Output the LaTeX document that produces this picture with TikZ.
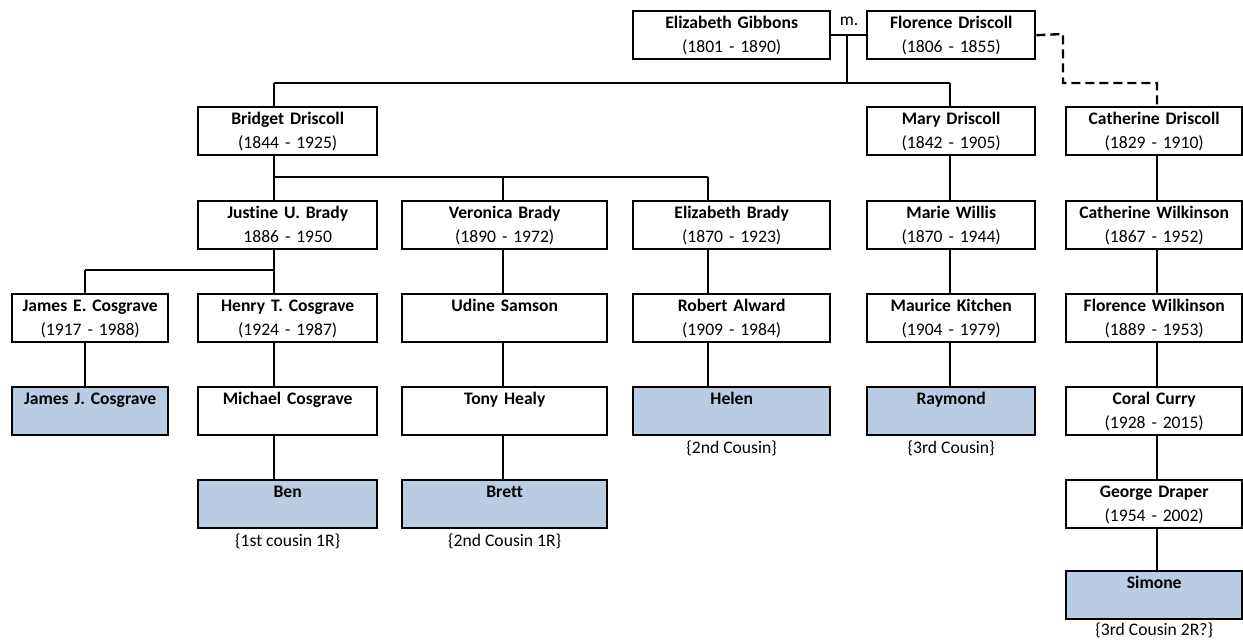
\documentclass[tikz,border=0pt]{standalone}
\usepackage{fontspec}
\setmainfont{Carlito}[Ligatures=NoCommon]
\definecolor{kin}{HTML}{B8CCE4}
\begin{document}
\begin{tikzpicture}[x=1pt,y=-1pt,
  txt/.style={font=\fontsize{17.6}{24}\selectfont},
  person/.style={txt, draw, line width=2.4pt, fill=white, anchor=north west,
    minimum height=48pt, inner sep=0pt, align=center},
  relative/.style={person, fill=kin},
  colA/.style={minimum width=156pt, text width=156pt},
  colB/.style={minimum width=179pt, text width=179pt},
  colC/.style={minimum width=205pt, text width=205pt},
  colD/.style={minimum width=197pt, text width=197pt},
  colE/.style={minimum width=168pt, text width=168pt},
  colF/.style={minimum width=176pt, text width=176pt},
  link/.style={line width=2.4pt},
  uncertain/.style={line width=2.4pt, dash pattern=on 9pt off 5pt, line join=miter},
  lbl/.style={txt, inner sep=0pt}]
\useasboundingbox (0,0) rectangle (1243,640);

% connector columns and bar heights
\coordinate (xA) at (85,0);
\coordinate (xB) at (274,0);
\coordinate (xC) at (503,0);
\coordinate (xD) at (708,0);
\coordinate (xE) at (950,0);
\coordinate (xF) at (1157,0);
\coordinate (bar0) at (0,83);
\coordinate (bar1) at (0,177);
\coordinate (bar2) at (0,270);
\coordinate (wed) at (847,34);
\coordinate (dashA) at (1063,34);
\coordinate (dashB) at (1063,83);

% generation 0
\node[person, colD] (gibbons) at (632,10) {\textbf{Elizabeth Gibbons}\strut\\(1801 - 1890)\strut};
\node[person, colE] (florence) at (866,10) {\textbf{Florence Driscoll}\strut\\(1806 - 1855)\strut};
\node[lbl] (married) at (849,21) {m.};

% generation 1
\node[person, colB] (bridget) at (197,106) {\textbf{Bridget Driscoll}\strut\\(1844 - 1925)\strut};
\node[person, colE] (mary) at (866,106) {\textbf{Mary Driscoll}\strut\\(1842 - 1905)\strut};
\node[person, colF] (catherine) at (1065,106) {\textbf{Catherine Driscoll}\strut\\(1829 - 1910)\strut};

% generation 2
\node[person, colB] (justine) at (197,200) {\textbf{Justine U. Brady}\strut\\1886 - 1950\strut};
\node[person, colC] (veronica) at (401,200) {\textbf{Veronica Brady}\strut\\(1890 - 1972)\strut};
\node[person, colD] (elizabeth) at (632,200) {\textbf{Elizabeth Brady}\strut\\(1870 - 1923)\strut};
\node[person, colE] (marie) at (866,200) {\textbf{Marie Willis}\strut\\(1870 - 1944)\strut};
\node[person, colF] (cwilkinson) at (1065,200) {\textbf{Catherine Wilkinson}\strut\\(1867 - 1952)\strut};

% generation 3
\node[person, colA] (jamesE) at (11,293) {\textbf{James E. Cosgrave}\strut\\(1917 - 1988)\strut};
\node[person, colB] (henry) at (197,293) {\textbf{Henry T. Cosgrave}\strut\\(1924 - 1987)\strut};
\node[person, colC] (udine) at (401,293) {\textbf{Udine Samson}\strut\\\strut};
\node[person, colD] (robert) at (632,293) {\textbf{Robert Alward}\strut\\(1909 - 1984)\strut};
\node[person, colE] (maurice) at (866,293) {\textbf{Maurice Kitchen}\strut\\(1904 - 1979)\strut};
\node[person, colF] (fwilkinson) at (1065,293) {\textbf{Florence Wilkinson}\strut\\(1889 - 1953)\strut};

% generation 4
\node[relative, colA] (jamesJ) at (11,386) {\textbf{James J. Cosgrave}\strut\\\strut};
\node[person, colB] (michael) at (197,386) {\textbf{Michael Cosgrave}\strut\\\strut};
\node[person, colC] (tony) at (401,386) {\textbf{Tony Healy}\strut\\\strut};
\node[relative, colD] (helen) at (632,386) {\textbf{Helen}\strut\\\strut};
\node[relative, colE] (raymond) at (866,386) {\textbf{Raymond}\strut\\\strut};
\node[person, colF] (coral) at (1065,386) {\textbf{Coral Curry}\strut\\(1928 - 2015)\strut};

% generation 5
\node[relative, colB] (ben) at (197,479) {\textbf{Ben}\strut\\\strut};
\node[relative, colC] (brett) at (401,479) {\textbf{Brett}\strut\\\strut};
\node[person, colF] (george) at (1065,479) {\textbf{George Draper}\strut\\(1954 - 2002)\strut};

% generation 6
\node[relative, colF] (simone) at (1065,570) {\textbf{Simone}\strut\\\strut};

% relationship notes
\node[lbl] (nHelen) at ([yshift=-12pt]helen.south) {\{2nd Cousin\}};
\node[lbl] (nRaymond) at ([yshift=-12pt]raymond.south) {\{3rd Cousin\}};
\node[lbl] (nBen) at ([yshift=-12pt]ben.south) {\{1st cousin 1R\}};
\node[lbl] (nBrett) at ([yshift=-12pt]brett.south) {\{2nd Cousin 1R\}};
\node[lbl] (nSimone) at ([yshift=-10pt]simone.south) {\{3rd Cousin 2R?\}};

% marriage and first family bar
\draw[link] (gibbons.east) -- (florence.west);
\draw[link] (wed) -- (wed |- bar0);
\draw[link] (bar0 -| xB) -- (bar0 -| xE);
\draw[link] (bar0 -| xB) -- (bridget.north -| xB);
\draw[link] (bar0 -| xE) -- (mary.north -| xE);

% uncertain link to Catherine Driscoll
\draw[uncertain] (florence.east) -- (dashA) -- (dashB) -- (dashB -| xF) -- (catherine.north -| xF);

% Bridget's children
\draw[link] (bridget.south -| xB) -- (justine.north -| xB);
\draw[link] (bar1 -| xB) -- (bar1 -| xD);
\draw[link] (bar1 -| xC) -- (veronica.north -| xC);
\draw[link] (bar1 -| xD) -- (elizabeth.north -| xD);

% Justine's children
\draw[link] (justine.south -| xB) -- (henry.north -| xB);
\draw[link] (bar2 -| xA) -- (bar2 -| xB);
\draw[link] (bar2 -| xA) -- (jamesE.north -| xA);

% single lines of descent
\draw[link] (jamesE.south -| xA) -- (jamesJ.north -| xA);
\draw[link] (henry.south -| xB) -- (michael.north -| xB);
\draw[link] (michael.south -| xB) -- (ben.north -| xB);
\draw[link] (veronica.south -| xC) -- (udine.north -| xC);
\draw[link] (udine.south -| xC) -- (tony.north -| xC);
\draw[link] (tony.south -| xC) -- (brett.north -| xC);
\draw[link] (elizabeth.south -| xD) -- (robert.north -| xD);
\draw[link] (robert.south -| xD) -- (helen.north -| xD);
\draw[link] (mary.south -| xE) -- (marie.north -| xE);
\draw[link] (marie.south -| xE) -- (maurice.north -| xE);
\draw[link] (maurice.south -| xE) -- (raymond.north -| xE);
\draw[link] (catherine.south -| xF) -- (cwilkinson.north -| xF);
\draw[link] (cwilkinson.south -| xF) -- (fwilkinson.north -| xF);
\draw[link] (fwilkinson.south -| xF) -- (coral.north -| xF);
\draw[link] (coral.south -| xF) -- (george.north -| xF);
\draw[link] (george.south -| xF) -- (simone.north -| xF);
\end{tikzpicture}
\end{document}
